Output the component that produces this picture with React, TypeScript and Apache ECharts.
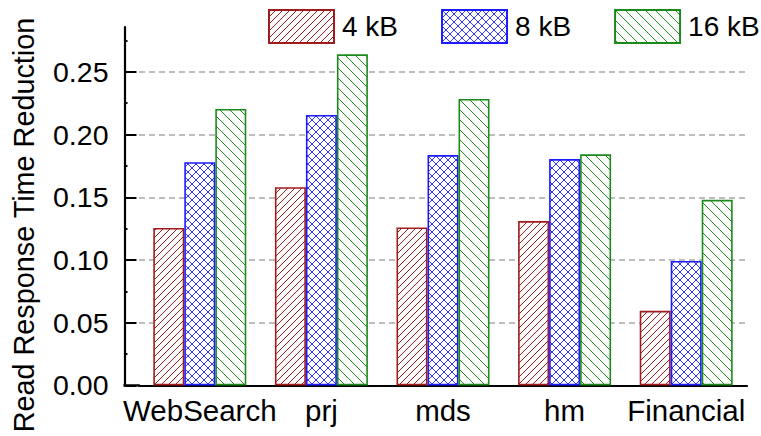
import React, { useEffect, useRef } from "react";
import * as echarts from "echarts";

const categories = ["WebSearch", "prj", "mds", "hm", "Financial"];
const seriesNames = ["4 kB", "8 kB", "16 kB"];
const values4kB = [0.1255, 0.158, 0.126, 0.131, 0.0595];
const values8kB = [0.178, 0.2157, 0.1837, 0.1805, 0.0992];
const values16kB = [0.2205, 0.264, 0.2284, 0.1843, 0.148];
const yTicks = [0, 0.05, 0.1, 0.15, 0.2, 0.25];
const yMinorTicks = [0.025, 0.075, 0.125, 0.175, 0.225, 0.275];
const yMax = 0.2858;
const yTitle = "Read Response Time Reduction";

const FONT = "'Liberation Sans', Arial, Helvetica, sans-serif";
const COLORS = ["#a01b1b", "#1c1cff", "#1b8a1b"];

function makePattern(kind: "fwd" | "cross" | "back", color: string, size: number, lw: number) {
  const c = document.createElement("canvas");
  c.width = size;
  c.height = size;
  const ctx = c.getContext("2d")!;
  ctx.fillStyle = "#ffffff";
  ctx.fillRect(0, 0, size, size);
  ctx.strokeStyle = color;
  ctx.lineWidth = lw;
  const fwd = () => {
    ctx.beginPath();
    ctx.moveTo(-1, size + 1);
    ctx.lineTo(size + 1, -1);
    ctx.moveTo(-1, 1);
    ctx.lineTo(1, -1);
    ctx.moveTo(size - 1, size + 1);
    ctx.lineTo(size + 1, size - 1);
    ctx.stroke();
  };
  const back = () => {
    ctx.beginPath();
    ctx.moveTo(-1, -1);
    ctx.lineTo(size + 1, size + 1);
    ctx.moveTo(size - 1, -1);
    ctx.lineTo(size + 1, 1);
    ctx.moveTo(-1, size - 1);
    ctx.lineTo(1, size + 1);
    ctx.stroke();
  };
  if (kind === "fwd") fwd();
  else if (kind === "back") back();
  else {
    fwd();
    back();
  }
  return { image: c, repeat: "repeat", imageWidth: size, imageHeight: size } as any;
}

export default function App() {
  const ref = useRef<HTMLDivElement>(null);
  useEffect(() => {
    if (!ref.current) return;
    const chart = echarts.init(ref.current, null, { renderer: "svg" });
    const patterns = [
      makePattern("fwd", COLORS[0], 7, 1),
      makePattern("cross", COLORS[1], 8, 0.9),
      makePattern("back", COLORS[2], 10, 1),
    ];
    const dataSets = [values4kB, values8kB, values16kB];
    const gridLeft = 139;
    const axisX = 124.5;
    const gridBottomY = 385.4;
    chart.setOption({
      animation: false,
      backgroundColor: "#ffffff",
      textStyle: { fontFamily: FONT },
      grid: { left: gridLeft, right: 14, top: 27, bottom: 436 - gridBottomY },
      legend: {
        data: seriesNames,
        left: 268,
        top: 9,
        width: 493,
        padding: 0,
        icon: "rect",
        itemWidth: 65,
        itemHeight: 33,
        itemGap: 43,
        textStyle: { fontSize: 28, color: "#000", fontFamily: FONT, padding: [0, 0, 0, 3] },
      },
      xAxis: {
        type: "category",
        data: categories,
        axisLine: { show: true, lineStyle: { color: "#000", width: 2.2 } },
        axisTick: { show: false },
        axisLabel: { fontSize: 29.5, color: "#000", margin: 10, fontFamily: FONT, interval: 0 },
        splitLine: { show: false },
      },
      yAxis: [
        {
          type: "value",
          min: 0,
          max: yMax,
          position: "left",
          offset: gridLeft - axisX,
          axisLine: { show: true, lineStyle: { color: "#000", width: 2.2 } },
          axisTick: {
            show: true,
            inside: true,
            length: 12,
            lineStyle: { color: "#000", width: 2 },
            customValues: yTicks,
          },
          axisLabel: {
            fontSize: 28.5,
            color: "#000",
            margin: 16,
            fontFamily: FONT,
            customValues: yTicks,
            formatter: (v: number) => v.toFixed(2),
          },
          splitLine: {
            show: true,
            lineStyle: { color: "#a8a8a8", width: 1.5, type: [6, 4] },
          },
        },
        {
          type: "value",
          min: 0,
          max: yMax,
          position: "left",
          offset: gridLeft - axisX,
          axisLine: { show: false },
          axisTick: {
            show: true,
            inside: true,
            length: 3,
            lineStyle: { color: "#000", width: 2 },
            customValues: yMinorTicks,
          },
          axisLabel: { show: false },
          splitLine: { show: false },
        },
      ],
      graphic: [
        {
          type: "rect",
          shape: { x: axisX - 1.1, y: gridBottomY - 1.1, width: gridLeft - axisX + 2, height: 2.2 },
          style: { fill: "#000" },
          z: 100,
        },
        {
          type: "text",
          x: 24,
          y: 225,
          rotation: Math.PI / 2,
          style: {
            text: yTitle,
            font: `28.8px ${FONT}`,
            fill: "#000",
            textAlign: "center",
            textVerticalAlign: "middle",
            align: "center",
            verticalAlign: "middle",
          } as any,
        },
      ],
      series: seriesNames.map((name, i) => ({
        name,
        type: "bar",
        data: dataSets[i],
        barWidth: 31,
        barGap: "0%",
        itemStyle: {
          color: patterns[i],
          borderColor: COLORS[i],
          borderWidth: 1.6,
        },
      })),
    });
    return () => chart.dispose();
  }, []);
  return <div ref={ref} style={{ width: 761, height: 436, position: "fixed", left: 0, top: 0 }} />;
}
